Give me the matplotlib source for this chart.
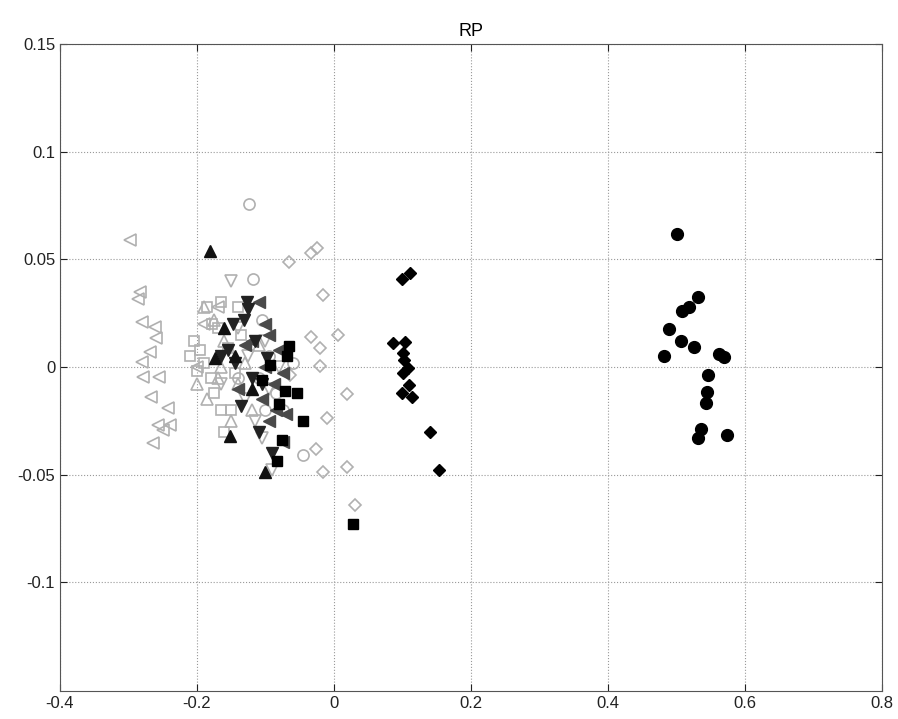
import numpy as np
import matplotlib.pyplot as plt

plt.rcParams['font.family'] = ['Liberation Sans', 'DejaVu Sans']

# black filled circles
circ_x = [0.501, 0.531, 0.518, 0.508, 0.489, 0.507, 0.526, 0.482, 0.562, 0.569,
          0.546, 0.545, 0.543, 0.536, 0.531, 0.574]
circ_y = [0.0618, 0.0325, 0.0279, 0.0260, 0.0176, 0.0121, 0.0093, 0.0051, 0.0060, 0.0046,
          -0.0037, -0.0116, -0.0167, -0.0288, -0.0330, -0.0316]

# black filled diamonds
dia_x = [0.111, 0.099, 0.086, 0.104, 0.101, 0.102, 0.108, 0.101, 0.109, 0.099, 0.114, 0.140, 0.153]
dia_y = [0.0437, 0.0409, 0.0111, 0.0116, 0.0065, 0.0033, -0.0005, -0.0028, -0.0084, -0.0121,
         -0.0139, -0.0302, -0.0478]

# open gray diamonds
odia_x = [-0.066, -0.034, -0.025, -0.016, -0.034, -0.020, 0.006, -0.020, -0.064, 0.019,
          -0.010, -0.026, -0.016, 0.019, 0.031]
odia_y = [0.0488, 0.0530, 0.0553, 0.0334, 0.0139, 0.0088, 0.0149, 0.0005, -0.0037, -0.0125,
          -0.0237, -0.0381, -0.0488, -0.0464, -0.0641]

# black filled squares
sq_x = [-0.066, -0.069, -0.054, -0.080, -0.045, -0.076, -0.083, 0.028, -0.093, -0.105, -0.072]
sq_y = [0.0098, 0.0051, -0.0121, -0.0172, -0.0251, -0.0339, -0.0437, -0.0729, 0.0009, -0.0060, -0.0110]

# open gray left triangles
oltri_x = [-0.298, -0.283, -0.286, -0.280, -0.261, -0.260, -0.269, -0.280, -0.279, -0.255,
           -0.267, -0.242, -0.257, -0.239, -0.250, -0.264, -0.190, -0.200, -0.170]
oltri_y = [0.0590, 0.0348, 0.0316, 0.0209, 0.0186, 0.0135, 0.0070, 0.0023, -0.0046, -0.0046,
           -0.0139, -0.0190, -0.0269, -0.0269, -0.0293, -0.0353, 0.0200, 0.0000, 0.0280]

# open gray squares
osq_x = [-0.205, -0.195, -0.185, -0.178, -0.170, -0.190, -0.180, -0.200, -0.175, -0.165,
         -0.150, -0.160, -0.145, -0.155, -0.140, -0.165, -0.210, -0.135]
osq_y = [0.012, 0.008, 0.028, 0.020, 0.018, 0.002, -0.005, -0.002, -0.012, -0.020,
         -0.020, -0.030, -0.003, 0.009, 0.028, 0.030, 0.005, 0.015]

# open gray up triangles
outri_x = [-0.190, -0.175, -0.160, -0.200, -0.170, -0.140, -0.185, -0.130, -0.150, -0.120,
           -0.165, -0.110]
outri_y = [0.028, 0.022, 0.012, -0.008, -0.005, -0.008, -0.015, 0.002, -0.025, -0.020,
           0.000, 0.010]

# open gray down triangles
odtri_x = [-0.150, -0.140, -0.125, -0.095, -0.130, -0.105, -0.090, -0.100, -0.165, -0.115, -0.080]
odtri_y = [0.040, 0.018, 0.005, -0.010, -0.015, -0.033, -0.048, 0.012, -0.008, -0.025, 0.000]

# open gray circles
ocirc_x = [-0.124, -0.118, -0.105, -0.095, -0.110, -0.085, -0.075, -0.045, -0.060, -0.140, -0.100]
ocirc_y = [0.0757, 0.041, 0.022, 0.005, -0.005, -0.012, -0.020, -0.041, 0.002, -0.005, -0.020]

# dark filled down triangles
dtri_x = [-0.127, -0.125, -0.148, -0.132, -0.165, -0.145, -0.155, -0.120, -0.105, -0.090,
          -0.110, -0.135, -0.115, -0.098]
dtri_y = [0.030, 0.027, 0.020, 0.022, 0.005, 0.002, 0.008, -0.005, -0.008, -0.040,
          -0.030, -0.018, 0.012, 0.004]

# dark gray filled left triangles
ltri_x = [-0.110, -0.100, -0.095, -0.080, -0.120, -0.100, -0.075, -0.085, -0.070, -0.075,
          -0.095, -0.140, -0.130, -0.088, -0.105]
ltri_y = [0.030, 0.020, 0.015, 0.008, 0.012, 0.000, -0.003, -0.020, -0.022, -0.035,
          -0.025, -0.010, 0.010, -0.008, -0.015]

# black filled up triangles
utri_x = [-0.181, -0.152, -0.101, -0.174, -0.145, -0.120, -0.160]
utri_y = [0.054, -0.032, -0.049, 0.004, 0.005, -0.010, 0.018]

fig = plt.figure(figsize=(8.98, 7.19), dpi=100)
ax = fig.add_axes([0.0668, 0.0389, 0.9152, 0.8999])

lg = '#b0b0b0'
ms = 8
ax.plot(oltri_x, oltri_y, '<', mfc='none', mec=lg, mew=1.2, ms=ms, ls='none')
ax.plot(osq_x, osq_y, 's', mfc='none', mec=lg, mew=1.2, ms=7.5, ls='none')
ax.plot(outri_x, outri_y, '^', mfc='none', mec=lg, mew=1.2, ms=ms, ls='none')
ax.plot(odtri_x, odtri_y, 'v', mfc='none', mec=lg, mew=1.2, ms=ms, ls='none')
ax.plot(ocirc_x, ocirc_y, 'o', mfc='none', mec=lg, mew=1.2, ms=ms, ls='none')
ax.plot(odia_x, odia_y, 'D', mfc='none', mec=lg, mew=1.2, ms=6.5, ls='none')
ax.plot(ltri_x, ltri_y, '<', color='#4a4a4a', ms=ms, ls='none')
ax.plot(dtri_x, dtri_y, 'v', color='#222222', ms=ms, ls='none')
ax.plot(utri_x, utri_y, '^', color='#111111', ms=ms, ls='none')
ax.plot(sq_x, sq_y, 's', color='black', ms=6.5, ls='none')
ax.plot(dia_x, dia_y, 'D', color='black', ms=6.5, ls='none')
ax.plot(circ_x, circ_y, 'o', color='black', ms=8.5, ls='none')

ax.set_xlim(-0.4, 0.8)
ax.set_ylim(-0.1505, 0.15)
xt = [-0.4, -0.2, 0, 0.2, 0.4, 0.6, 0.8]
yt = [-0.1, -0.05, 0, 0.05, 0.1, 0.15]
ax.set_xticks(xt)
ax.set_xticklabels(['-0.4', '-0.2', '0', '0.2', '0.4', '0.6', '0.8'])
ax.set_yticks(yt)
ax.set_yticklabels(['-0.1', '-0.05', '0', '0.05', '0.1', '0.15'])
ax.tick_params(direction='in', top=True, right=True, labelsize=12, length=5, colors='#222222')
ax.grid(True, ls=':', color='#999999', lw=0.8)
for s in ax.spines.values():
    s.set_color('#555555')
ax.set_title('RP', fontsize=13, pad=6)

fig.savefig('out.png', dpi=100)
